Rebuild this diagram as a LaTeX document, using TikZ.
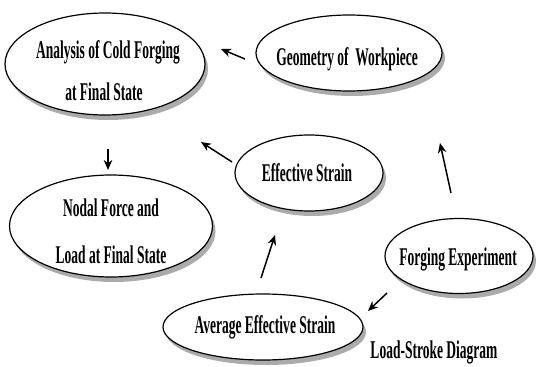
\documentclass[tikz,border=0pt]{standalone}
\usepackage{fontspec}
\setmainfont{Liberation Serif}
\usetikzlibrary{shapes.geometric,arrows.meta}
\newcommand{\lbl}[1]{\scalebox{0.53}[1]{\fontsize{25.5}{30}\selectfont\bfseries #1}}
\tikzset{
  bub/.style={ellipse, draw=black, line width=1.2pt, fill=white, inner sep=0pt},
  shad/.style={ellipse, fill=black!33, inner sep=0pt},
  txt/.style={inner sep=0pt, anchor=base},
  arr/.style={line width=1.5pt, -{Stealth[length=10pt,width=8.5pt]}}
}
\begin{document}
\begin{tikzpicture}[x=1pt,y=-1pt]
\useasboundingbox (0,0) rectangle (536,367);
% shadows
\foreach \cx/\cy/\w/\h in {105/64/200/102, 349/53/186/76, 111/226/203/102, 309/173/148/76, 459/256/148/75, 263/327/200/66}{
  \node[shad, minimum width=\w pt, minimum height=\h pt] at (\cx+3,\cy+5) {};
}
% ellipses
\node[bub, minimum width=200pt, minimum height=102pt] (ana) at (105,64) {};
\node[bub, minimum width=186pt, minimum height=76pt] (geo) at (349,53) {};
\node[bub, minimum width=203pt, minimum height=102pt] (nod) at (111,226) {};
\node[bub, minimum width=148pt, minimum height=76pt] (eff) at (309,173) {};
\node[bub, minimum width=148pt, minimum height=75pt] (forg) at (459,256) {};
\node[bub, minimum width=200pt, minimum height=66pt] (avg) at (263,327) {};
% texts
\node[txt] (t1) at (108,58) {\lbl{Analysis of Cold Forging}};
\node[txt] (t2) at (104,100) {\lbl{at Final State}};
\node[txt] (t3) at (347,65) {\lbl{Geometry of\ \ Workpiece}};
\node[txt] (t4) at (111,216) {\lbl{Nodal Force and}};
\node[txt] (t5) at (111,263) {\lbl{Load at Final State}};
\node[txt] (t6) at (307,181) {\lbl{Effective Strain}};
\node[txt] (t7) at (458,265) {\lbl{Forging Experiment}};
\node[txt] (t8) at (265,333) {\lbl{Average Effective Strain}};
\node[txt] (t9) at (434,358) {\lbl{Load-Stroke Diagram}};
% arrow end points
\coordinate (a1s) at (245,59); \coordinate (a1e) at (221,49);
\coordinate (a2s) at (108,149); \coordinate (a2e) at (108,170);
\coordinate (a3s) at (232,162); \coordinate (a3e) at (201,142);
\coordinate (a4s) at (261,278); \coordinate (a4e) at (275,235);
\coordinate (a5s) at (451,193); \coordinate (a5e) at (440,143);
\coordinate (a6s) at (387,293); \coordinate (a6e) at (368,311);
\draw[arr] (a1s) -- (a1e);
\draw[arr] (a2s) -- (a2e);
\draw[arr] (a3s) -- (a3e);
\draw[arr] (a4s) -- (a4e);
\draw[arr] (a5s) -- (a5e);
\draw[arr] (a6s) -- (a6e);
\end{tikzpicture}
\end{document}
